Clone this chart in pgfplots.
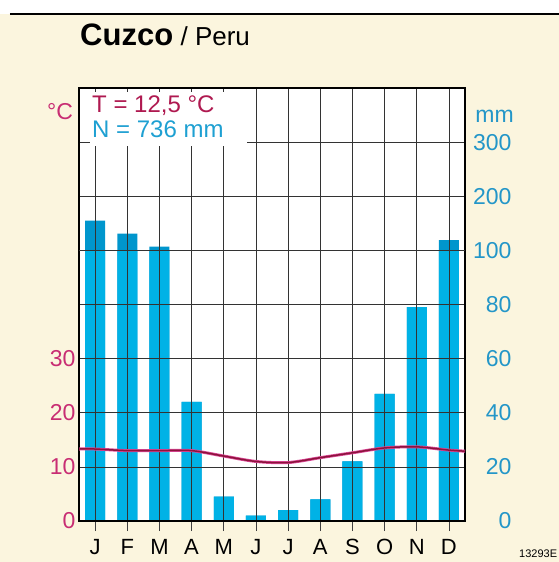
\documentclass[border=0pt]{standalone}
\usepackage{fontspec}
\setmainfont{Liberation Sans}
\usepackage{pgfplots}
\usepackage{pgfplotstable}
\pgfplotsset{compat=1.18}
\definecolor{cream}{RGB}{251,245,222}
\definecolor{barlight}{RGB}{0,178,230}
\definecolor{bardark}{RGB}{0,150,205}
\definecolor{tempred}{RGB}{175,25,80}
\definecolor{temppink}{RGB}{220,70,150}
\definecolor{tempdark}{RGB}{140,20,60}
\definecolor{tlabel}{RGB}{200,45,115}
\definecolor{mmlabel}{RGB}{35,150,200}
\definecolor{ntext}{RGB}{30,160,210}

\pgfplotstableread{
m mm
0 155
1 131
2 107
3 44
4 9
5 2
6 4
7 8
8 22
9 47
10 79
11 119
}\prec

\pgfplotstableread{
m T
-0.5 13.3
0 13.3
1 13.0
2 13.0
3 13.0
4 12.0
5 11.0
6 10.8
7 11.7
8 12.6
9 13.5
10 13.7
11 13.1
11.5 12.9
}\temp

\begin{document}
\begin{tikzpicture}
% background
\fill[white] (-79pt,-41pt) rectangle (480pt,521pt);
\fill[cream] (-79pt,-41pt) rectangle (480pt,507pt);
\draw[black, line width=1.6pt] (-69pt,507pt) -- (480pt,507pt);
\fill[white] (0pt,0pt) rectangle (386pt,433pt);

\begin{axis}[at={(0pt,0pt)}, anchor=south west, scale only axis,
  width=386pt, height=433pt,
  xmin=-0.5, xmax=11.5, ymin=0, ymax=160,
  axis on top,
  axis line style={black, line width=1.4pt},
  xtick={0,...,11}, xticklabels={J,F,M,A,M,J,J,A,S,O,N,D},
  xtick pos=bottom, xtick align=outside, major tick length=10pt,
  xtick style={black!75, line width=0.7pt},
  xmajorgrids, ymajorgrids,
  major grid style={black!80, line width=0.7pt},
  ytick={0,20,40,60,80,100,120,140},
  yticklabels={0,20,40,60,80,100,200,300},
  ytick pos=right, ytick style={draw=none},
  yticklabel style={anchor=east, xshift=50pt, text=mmlabel, font=\fontsize{23}{26}\selectfont},
  xticklabel style={anchor=base, text height=0pt, text depth=0pt, yshift=-23pt, font=\fontsize{22}{26}\selectfont},
  extra y ticks={100}, extra y tick labels={},
  extra y tick style={grid style={black, line width=1.4pt}},
]
\addplot[ybar, bar width=20pt, bar shift=0pt, fill=bardark, draw=none]
  table[x=m, y expr={(\thisrow{mm}>100) ? (100+(\thisrow{mm}-100)/5) : (\thisrow{mm})}] {\prec};
\addplot[ybar, bar width=20pt, bar shift=0pt, fill=barlight, draw=none]
  table[x=m, y expr={min(\thisrow{mm},100)}] {\prec};
\end{axis}

\begin{axis}[at={(0pt,0pt)}, anchor=south west, scale only axis,
  width=386pt, height=433pt,
  xmin=-0.5, xmax=11.5, ymin=0, ymax=80,
  axis line style={draw=none},
  xtick=\empty,
  ytick={0,10,20,30}, yticklabels={0,10,20,30},
  ytick pos=left, ytick style={draw=none},
  yticklabel style={text=tlabel, font=\fontsize{23}{26}\selectfont},
]
\addplot[temppink, line width=3.0pt, smooth, tension=0.5] table[x=m, y=T] {\temp};
\addplot[tempdark, line width=1.5pt, smooth, tension=0.5] table[x=m, y=T] {\temp};
\end{axis}

% text box
\fill[white] (11pt,375pt) rectangle (168pt,429pt);
\node[anchor=base west, inner sep=0pt, text=tempred, font=\fontsize{24}{26}\selectfont] at (13pt,408pt) {T = 12,5 °C};
\node[anchor=base west, inner sep=0pt, text=ntext, font=\fontsize{24}{26}\selectfont] at (13pt,383pt) {N = 736 mm};
\node[anchor=base, inner sep=0pt, text=tlabel, font=\fontsize{23}{26}\selectfont] at (-19pt,401pt) {°C};
\node[anchor=base east, inner sep=0pt, text=mmlabel, font=\fontsize{23}{26}\selectfont] at (435pt,398pt) {mm};
% title
\node[anchor=base west, inner sep=0pt, font=\fontsize{31}{32}\selectfont\bfseries] (tt) at (1pt,475pt) {Cuzco};
\node[anchor=base west, inner sep=0pt, font=\fontsize{26}{28}\selectfont] at ([xshift=7pt]tt.base east) {/ Peru};
\node[anchor=base west, inner sep=0pt, font=\fontsize{11}{12}\selectfont] at (440pt,-36pt) {13293E};
\pgfresetboundingbox
\path[use as bounding box] (-79pt,-41pt) rectangle (480pt,521pt);
\end{tikzpicture}
\end{document}
